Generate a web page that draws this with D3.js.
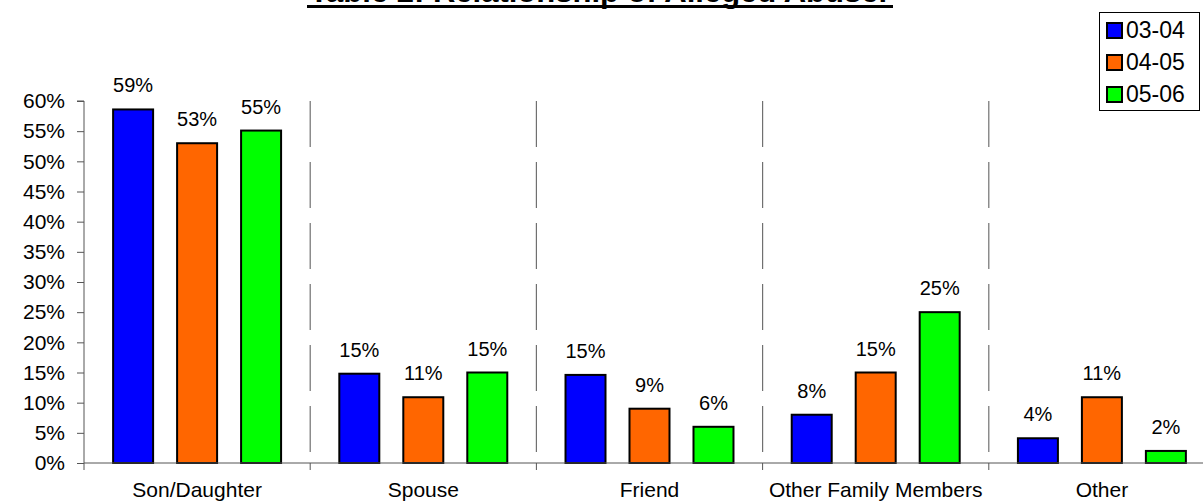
<!DOCTYPE html>
<html><head><meta charset="utf-8">
<script src="https://cdn.jsdelivr.net/npm/d3@7"></script>
<style>body{margin:0;background:#fff;}svg{display:block;font-family:Arial,"Liberation Sans",sans-serif;}</style>
</head><body><svg id="c" width="1203" height="502"></svg>
<script>
const title = "Table 2: Relationship of Alleged Abuser";
const categories = ["Son/Daughter","Spouse","Friend","Other Family Members","Other"];
const seriesNames = ["03-04","04-05","05-06"];
const s0304 = [58.6,14.8,14.6,8.0,4.1];
const s0405 = [53.0,10.9,9.0,15.0,10.9];
const s0506 = [55.1,15.0,6.0,25.0,2.0];
const colors = ["#0000FF","#FF6600","#00FF00"];
const yTicks = [0,5,10,15,20,25,30,35,40,45,50,55,60];

const series = [s0304,s0405,s0506];
const svg = d3.select("#c");
const m = {l:84, r:1215, t:101, b:463};
const x = d3.scaleBand().domain(categories).range([m.l, m.r]);
const xi = d3.scaleBand().domain(seriesNames).range([0, x.bandwidth()]).paddingInner(0.375).paddingOuter(0.455);
const y = d3.scaleLinear().domain([0,60]).range([m.b, m.t]);

// dashed separators
svg.append("g").selectAll("line").data(categories.slice(1)).join("line")
  .attr("x1", d=>x(d)).attr("x2", d=>x(d)).attr("y1", m.t).attr("y2", m.b)
  .attr("stroke","#707070").attr("stroke-width",1.2).attr("stroke-dasharray","46,15");

// bars
categories.forEach((c,ci)=>{
  const g = svg.append("g").attr("transform",`translate(${x(c)},0)`);
  g.selectAll("rect").data(series.map((s,si)=>({name:seriesNames[si],v:s[ci],col:colors[si]}))).join("rect")
    .attr("x", d=>xi(d.name)).attr("width", xi.bandwidth())
    .attr("y", d=>y(d.v)).attr("height", d=>m.b - y(d.v))
    .attr("fill", d=>d.col).attr("stroke","#000").attr("stroke-width",2);
  g.selectAll("text").data(series.map((s,si)=>({name:seriesNames[si],v:s[ci]}))).join("text")
    .attr("x", d=>xi(d.name)+xi.bandwidth()/2).attr("y", d=>y(d.v)-17)
    .attr("text-anchor","middle").attr("font-size",20).attr("fill","#000")
    .text(d=>Math.round(d.v)+"%");
});

// y axis
const ya = d3.axisLeft(y).tickValues(yTicks).tickFormat(d=>d+"%").tickSize(7).tickPadding(12);
const yg = svg.append("g").attr("transform",`translate(${m.l},0)`).call(ya);
yg.select(".domain").attr("stroke","#555").attr("d",`M-7,${m.t}H0V${m.b}`);
yg.selectAll(".tick line").attr("stroke","#555");
yg.selectAll(".tick text").attr("font-size",21).attr("font-family","Arial, 'Liberation Sans', sans-serif").attr("fill","#000");

// x axis
const xa = d3.axisBottom(x).tickSize(0).tickPadding(19);
const xg = svg.append("g").attr("transform",`translate(0,${m.b})`).call(xa);
xg.select(".domain").attr("stroke","#555").attr("d",`M${m.l},0H${m.r}`);
xg.selectAll(".tick text").attr("font-size",21).attr("font-family","Arial, 'Liberation Sans', sans-serif").attr("fill","#000");
svg.append("g").selectAll("line").data(categories.concat(["__end"])).join("line")
  .attr("x1", (d,i)=> i<categories.length ? x(d) : m.r).attr("x2",(d,i)=> i<categories.length ? x(d) : m.r)
  .attr("y1", m.b).attr("y2", m.b+7).attr("stroke","#555");

// title
svg.append("text").attr("x",600).attr("y",2).attr("text-anchor","middle")
  .attr("font-size",31).attr("font-weight","bold").text(title);
svg.append("line").attr("x1",307).attr("x2",893).attr("y1",6.5).attr("y2",6.5).attr("stroke","#000").attr("stroke-width",3);

// legend
const lg = svg.append("g");
lg.append("rect").attr("x",1099.5).attr("y",12.5).attr("width",100).attr("height",98).attr("fill","#fff").attr("stroke","#000");
seriesNames.forEach((n,i)=>{
  const cy = 30 + i*32;
  lg.append("rect").attr("x",1107).attr("y",cy-7).attr("width",15).attr("height",15).attr("fill",colors[i]).attr("stroke","#000").attr("stroke-width",2);
  lg.append("text").attr("x",1126).attr("y",cy+8).attr("font-size",23).text(n);
});
</script></body></html>
